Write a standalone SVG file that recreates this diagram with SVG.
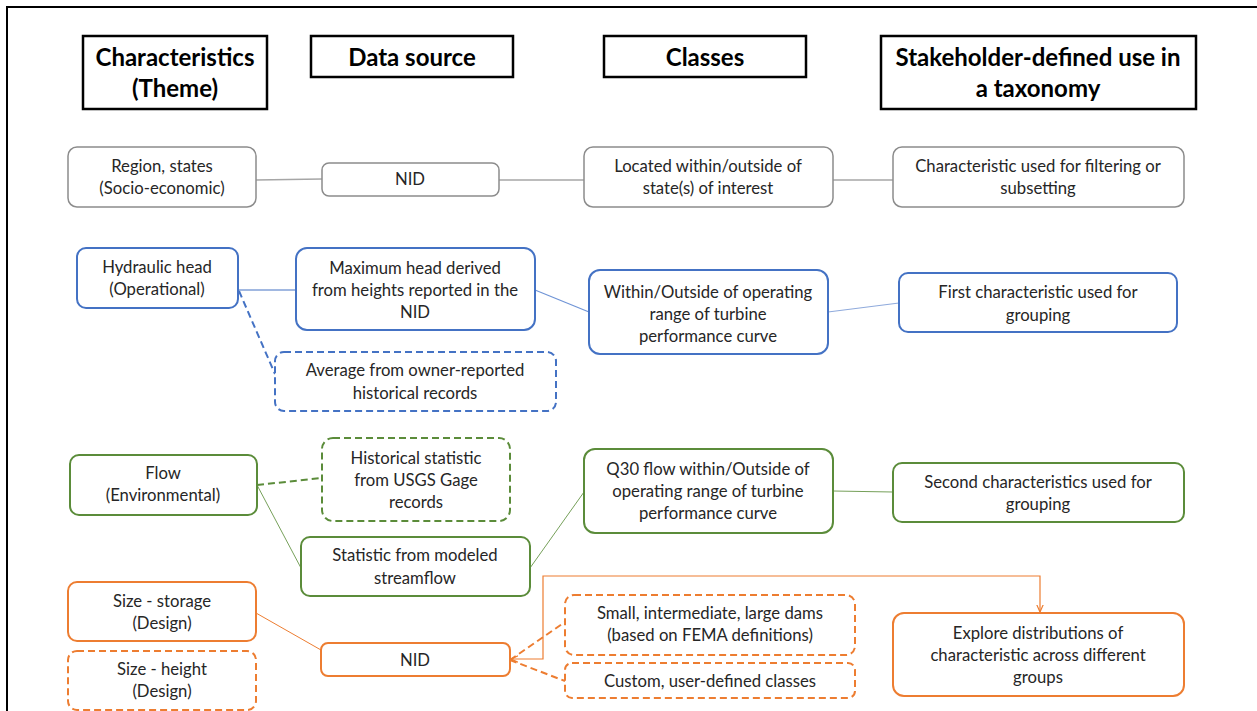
<svg xmlns="http://www.w3.org/2000/svg" width="1257" height="711" viewBox="0 0 1257 711">
<defs>
<style>
.hdr{fill:#fff;stroke:#000;stroke-width:2.5}
.ht{font-family:Lato,"Liberation Sans",sans-serif;font-weight:bold;font-size:24px;fill:#000;text-anchor:middle}
.t{font-family:Lato,"Liberation Sans",sans-serif;font-size:16.7px;fill:#262626;text-anchor:middle}
.g{fill:#fff;stroke:#8c8c8c;stroke-width:1.5}
.b{fill:#fff;stroke:#4472c4;stroke-width:2}
.gr{fill:#fff;stroke:#5b8c3a;stroke-width:2}
.o{fill:#fff;stroke:#ed7d31;stroke-width:2}
.d{stroke-dasharray:7 4}
.c{fill:none}
</style>
<marker id="ah" viewBox="0 0 10 10" refX="9" refY="5" markerWidth="8" markerHeight="8" orient="auto-start-reverse" markerUnits="userSpaceOnUse">
<path d="M0,1 L9,5 L0,9" fill="none" stroke="#ed7d31" stroke-width="1.5"/>
</marker>
</defs>
<rect width="1257" height="711" fill="#fff"/>
<path d="M7,711 V7 H1257" fill="none" stroke="#000" stroke-width="2"/>

<g id="connectors" class="c">
<line x1="256" y1="180" x2="322" y2="179" stroke="#a6a6a6" stroke-width="1.5"/>
<line x1="499" y1="180" x2="584" y2="180" stroke="#a6a6a6" stroke-width="1.5"/>
<line x1="833" y1="180" x2="893" y2="180" stroke="#a6a6a6" stroke-width="1.5"/>
<line x1="238" y1="290" x2="296" y2="290" stroke="#4472c4" stroke-width="1.2"/>
<line x1="535" y1="290" x2="589" y2="312" stroke="#6f94d6" stroke-width="1.2"/>
<line x1="828" y1="312" x2="899" y2="303" stroke="#8faadc" stroke-width="1.2"/>
<line x1="239" y1="291" x2="275" y2="374" stroke="#4472c4" stroke-width="2" stroke-dasharray="7 4"/>
<line x1="257" y1="485" x2="322" y2="478" stroke="#5b8c3a" stroke-width="2" stroke-dasharray="7 4"/>
<line x1="257" y1="485" x2="301" y2="568" stroke="#76a05a" stroke-width="1"/>
<line x1="530" y1="568" x2="584" y2="492" stroke="#76a05a" stroke-width="1"/>
<line x1="833" y1="491" x2="893" y2="492" stroke="#76a05a" stroke-width="1.2"/>
<line x1="256" y1="613" x2="321" y2="650" stroke="#ed7d31" stroke-width="1"/>
<line x1="510" y1="660" x2="565" y2="622" stroke="#ed7d31" stroke-width="2" stroke-dasharray="7 4"/>
<line x1="510" y1="660" x2="565" y2="681" stroke="#ed7d31" stroke-width="2" stroke-dasharray="7 4"/>
<path d="M511,659 H543 V576 H1040 V612" stroke="#ed7d31" stroke-width="1.2" marker-start="url(#ah)" marker-end="url(#ah)"/>
</g>

<g id="h1"><rect class="hdr" x="83" y="36" width="184" height="73"/><text class="ht" x="175" y="66">Characteristics</text><text class="ht" x="175" y="97">(Theme)</text></g>
<g id="h2"><rect class="hdr" x="311" y="36" width="202" height="41"/><text class="ht" x="412" y="66">Data source</text></g>
<g id="h3"><rect class="hdr" x="604" y="36" width="202" height="41"/><text class="ht" x="705" y="66">Classes</text></g>
<g id="h4"><rect class="hdr" x="881" y="36" width="315" height="73"/><text class="ht" x="1038" y="66">Stakeholder-defined use in</text><text class="ht" x="1038" y="97">a taxonomy</text></g>

<g id="n-region"><rect class="g" x="68" y="147" width="188" height="60" rx="9"/><text class="t" x="162" y="172">Region, states</text><text class="t" x="162" y="194">(Socio-economic)</text></g>
<g id="n-nid1"><rect class="g" x="322" y="163" width="177" height="33" rx="7"/><text class="t" x="410" y="185">NID</text></g>
<g id="n-located"><rect class="g" x="584" y="147" width="249" height="60" rx="9"/><text class="t" x="708" y="172">Located within/outside of</text><text class="t" x="708" y="194">state(s) of interest</text></g>
<g id="n-filter"><rect class="g" x="893" y="147" width="291" height="60" rx="9"/><text class="t" x="1038" y="172">Characteristic used for filtering or</text><text class="t" x="1038" y="194">subsetting</text></g>

<g id="n-hydraulic"><rect class="b" x="77" y="248" width="161" height="60" rx="9"/><text class="t" x="157" y="273">Hydraulic head</text><text class="t" x="157" y="295">(Operational)</text></g>
<g id="n-maxhead"><rect class="b" x="296" y="248" width="239" height="82" rx="11"/><text class="t" x="415" y="274">Maximum head derived</text><text class="t" x="415" y="296">from heights reported in the</text><text class="t" x="415" y="318">NID</text></g>
<g id="n-within"><rect class="b" x="589" y="270" width="239" height="84" rx="11"/><text class="t" x="708" y="298">Within/Outside of operating</text><text class="t" x="708" y="320">range of turbine</text><text class="t" x="708" y="342">performance curve</text></g>
<g id="n-first"><rect class="b" x="899" y="273" width="278" height="59" rx="9"/><text class="t" x="1038" y="298">First characteristic used for</text><text class="t" x="1038" y="321">grouping</text></g>
<g id="n-average"><rect class="b d" x="275" y="352" width="281" height="59" rx="9"/><text class="t" x="415" y="376">Average from owner-reported</text><text class="t" x="415" y="399">historical records</text></g>

<g id="n-flow"><rect class="gr" x="70" y="455" width="187" height="60" rx="9"/><text class="t" x="163" y="479">Flow</text><text class="t" x="163" y="501">(Environmental)</text></g>
<g id="n-usgs"><rect class="gr d" x="322" y="438" width="188" height="83" rx="11"/><text class="t" x="416" y="464">Historical statistic</text><text class="t" x="416" y="486">from USGS Gage</text><text class="t" x="416" y="508">records</text></g>
<g id="n-modeled"><rect class="gr" x="301" y="537" width="229" height="59" rx="9"/><text class="t" x="415" y="561">Statistic from modeled</text><text class="t" x="415" y="584">streamflow</text></g>
<g id="n-q30"><rect class="gr" x="584" y="449" width="249" height="84" rx="11"/><text class="t" x="708" y="475">Q30 flow within/Outside of</text><text class="t" x="708" y="497">operating range of turbine</text><text class="t" x="708" y="519">performance curve</text></g>
<g id="n-second"><rect class="gr" x="893" y="463" width="291" height="59" rx="9"/><text class="t" x="1038" y="488">Second characteristics used for</text><text class="t" x="1038" y="510">grouping</text></g>

<g id="n-storage"><rect class="o" x="68" y="582" width="188" height="59" rx="9"/><text class="t" x="162" y="607">Size - storage</text><text class="t" x="162" y="629">(Design)</text></g>
<g id="n-height"><rect class="o d" x="68" y="651" width="188" height="59" rx="9"/><text class="t" x="162" y="675">Size - height</text><text class="t" x="162" y="697">(Design)</text></g>
<g id="n-nid2"><rect class="o" x="321" y="643" width="189" height="33" rx="7"/><text class="t" x="415" y="666">NID</text></g>
<g id="n-small"><rect class="o d" x="565" y="595" width="290" height="60" rx="9"/><text class="t" x="710" y="619">Small, intermediate, large dams</text><text class="t" x="710" y="641">(based on FEMA definitions)</text></g>
<g id="n-custom"><rect class="o d" x="565" y="663" width="290" height="35" rx="7"/><text class="t" x="710" y="687">Custom, user-defined classes</text></g>
<g id="n-explore"><rect class="o" x="893" y="613" width="291" height="83" rx="11"/><text class="t" x="1038" y="639">Explore distributions of</text><text class="t" x="1038" y="661">characteristic across different</text><text class="t" x="1038" y="683">groups</text></g>
</svg>
